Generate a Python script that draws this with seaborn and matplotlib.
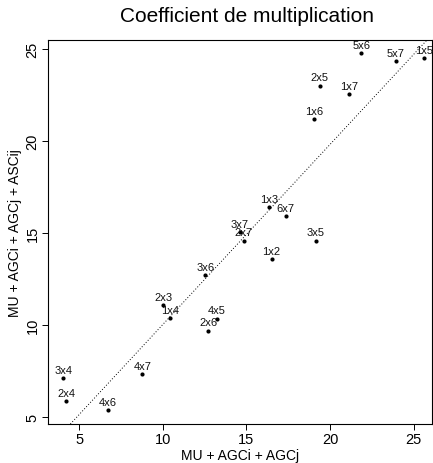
import matplotlib
matplotlib.use("Agg")
import matplotlib.pyplot as plt
import seaborn as sns
import pandas as pd

labels = ["5x6", "5x7", "1x5", "2x5", "1x7", "1x6", "1x3", "6x7", "3x7", "2x7",
          "3x5", "1x2", "3x6", "2x3", "1x4", "4x5", "2x6", "3x4", "4x7", "2x4", "4x6"]
x_vals = [21.87, 23.94, 25.6, 19.37, 21.13, 19.03, 16.34, 17.34, 14.6, 14.84,
          19.15, 16.5, 12.53, 10.03, 10.43, 13.24, 12.72, 4.04, 8.77, 4.22, 6.7]
y_vals = [24.77, 24.33, 24.5, 23.0, 22.54, 21.18, 16.4, 15.91, 15.04, 14.57,
          14.57, 13.59, 12.7, 11.09, 10.38, 10.34, 9.69, 7.12, 7.34, 5.87, 5.38]
line_intercept = 0.24
line_slope = 0.979

df = pd.DataFrame({"x": x_vals, "y": y_vals, "label": labels})

sns.set_style("ticks")
plt.rcParams['font.family'] = ['Liberation Sans', 'DejaVu Sans']
plt.rcParams['text.color'] = 'black'
plt.rcParams['axes.labelcolor'] = 'black'
plt.rcParams['xtick.color'] = 'black'
plt.rcParams['ytick.color'] = 'black'

fig = plt.figure(figsize=(4.33, 4.64), dpi=100)
ax = fig.add_axes([0.111, 0.084, 0.887, 0.828])

sns.scatterplot(data=df, x="x", y="y", ax=ax, color="black", s=9,
                edgecolor="black", linewidth=0, zorder=3)
for _, r in df.iterrows():
    ax.annotate(r["label"], (r["x"], r["y"]), xytext=(0, 2.5),
                textcoords="offset points", ha="center", va="bottom",
                fontsize=8, color="#111111")

ax.axline((0, line_intercept), slope=line_slope, color="black", linestyle=(0, (1, 2)),
          linewidth=0.7)

ax.set_xlim(3.14, 26.1)
ax.set_ylim(4.62, 25.5)
ax.set_xticks([5, 10, 15, 20, 25])
ax.set_yticks([5, 10, 15, 20, 25])
ax.tick_params(axis="both", labelsize=10.5, length=4, width=0.7, direction="out", pad=2)
for lab in ax.get_yticklabels():
    lab.set_rotation(90)
    lab.set_va("center")
for sp in ax.spines.values():
    sp.set_visible(True)
    sp.set_linewidth(0.8)
    sp.set_color("black")

ax.set_xlabel("MU + AGCi + AGCj", fontsize=10, labelpad=1)
ax.set_ylabel("MU + AGCi + AGCj + ASCij", fontsize=10, labelpad=3)
fig.suptitle("Coefficient de multiplication", fontsize=15, x=0.57, y=0.985)

fig.savefig("out.png", dpi=100)
